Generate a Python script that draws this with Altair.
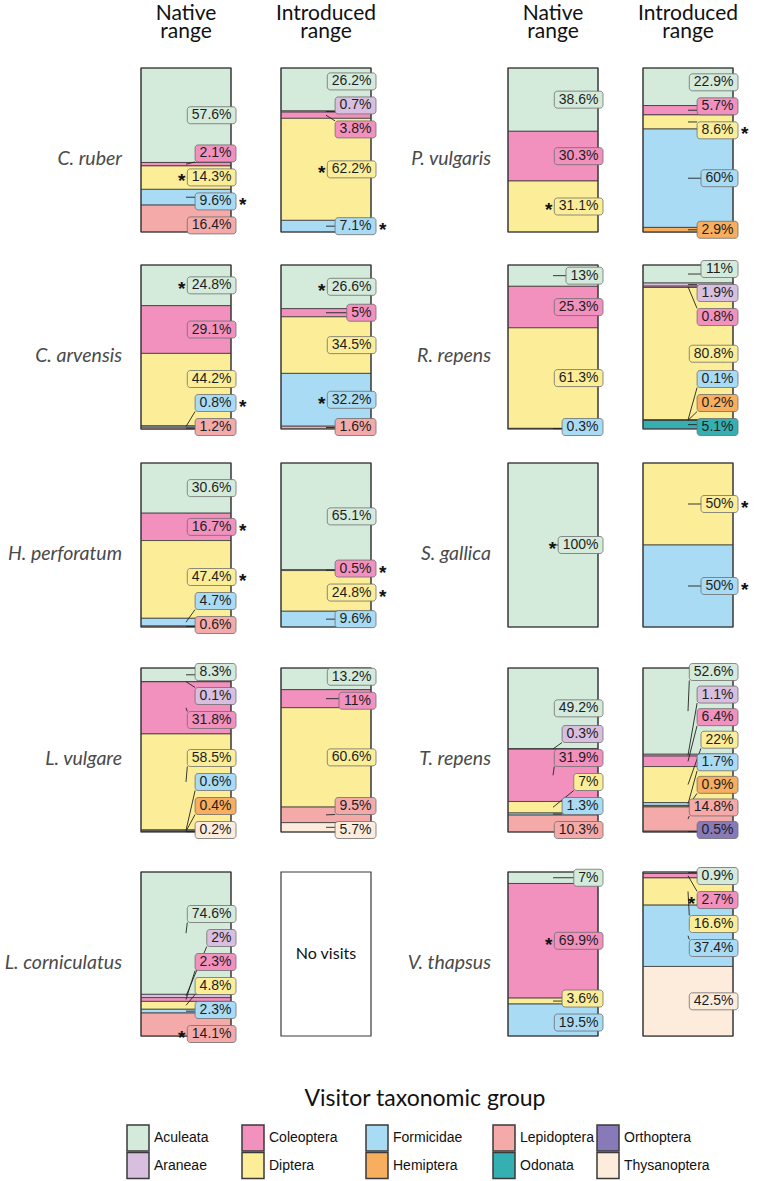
import math
import altair as alt
import pandas as pd

# ---------------------------------------------------------------------------
# Visitor taxonomic groups (stacking order, top to bottom) and their colours
# ---------------------------------------------------------------------------
GROUPS = ["Aculeata", "Araneae", "Coleoptera", "Diptera", "Formicidae",
          "Hemiptera", "Lepidoptera", "Odonata", "Orthoptera", "Thysanoptera"]
GROUP_COLORS = ["#d4ebdb", "#d9bfdf", "#f291be", "#fcee98", "#a9dcf4",
                "#f7ae5e", "#f5aaaa", "#35b0b2", "#8879b9", "#fdecdc"]

RANGES = ["Native\nrange", "Introduced\nrange"]
LEFT_SPECIES = ["C. ruber", "C. arvensis", "H. perforatum", "L. vulgare", "L. corniculatus"]
RIGHT_SPECIES = ["P. vulgaris", "R. repens", "S. gallica", "T. repens", "V. thapsus"]

# ---------------------------------------------------------------------------
# Share of visits (%) per group, top to bottom of each bar
# ---------------------------------------------------------------------------
c_ruber_native = [("Aculeata", 57.6), ("Coleoptera", 2.1), ("Diptera", 14.3),
                  ("Formicidae", 9.6), ("Lepidoptera", 16.4)]
c_ruber_intro = [("Aculeata", 26.2), ("Araneae", 0.7), ("Coleoptera", 3.8),
                 ("Diptera", 62.2), ("Formicidae", 7.1)]

c_arvensis_native = [("Aculeata", 24.8), ("Coleoptera", 29.1), ("Diptera", 44.2),
                     ("Formicidae", 0.8), ("Lepidoptera", 1.2)]
c_arvensis_intro = [("Aculeata", 26.6), ("Coleoptera", 5), ("Diptera", 34.5),
                    ("Formicidae", 32.2), ("Lepidoptera", 1.6)]

h_perforatum_native = [("Aculeata", 30.6), ("Coleoptera", 16.7), ("Diptera", 47.4),
                       ("Formicidae", 4.7), ("Lepidoptera", 0.6)]
h_perforatum_intro = [("Aculeata", 65.1), ("Coleoptera", 0.5), ("Diptera", 24.8),
                      ("Formicidae", 9.6)]

l_vulgare_native = [("Aculeata", 8.3), ("Araneae", 0.1), ("Coleoptera", 31.8),
                    ("Diptera", 58.5), ("Formicidae", 0.6), ("Hemiptera", 0.4),
                    ("Thysanoptera", 0.2)]
l_vulgare_intro = [("Aculeata", 13.2), ("Coleoptera", 11), ("Diptera", 60.6),
                   ("Lepidoptera", 9.5), ("Thysanoptera", 5.7)]

l_corniculatus_native = [("Aculeata", 74.6), ("Araneae", 2), ("Coleoptera", 2.3),
                         ("Diptera", 4.8), ("Formicidae", 2.3), ("Lepidoptera", 14.1)]
l_corniculatus_intro = None  # no visits recorded

p_vulgaris_native = [("Aculeata", 38.6), ("Coleoptera", 30.3), ("Diptera", 31.1)]
p_vulgaris_intro = [("Aculeata", 22.9), ("Coleoptera", 5.7), ("Diptera", 8.6),
                    ("Formicidae", 60), ("Hemiptera", 2.9)]

r_repens_native = [("Aculeata", 13), ("Coleoptera", 25.3), ("Diptera", 61.3),
                   ("Formicidae", 0.3)]
r_repens_intro = [("Aculeata", 11), ("Araneae", 1.9), ("Coleoptera", 0.8),
                  ("Diptera", 80.8), ("Formicidae", 0.1), ("Hemiptera", 0.2),
                  ("Odonata", 5.1)]

s_gallica_native = [("Aculeata", 100)]
s_gallica_intro = [("Diptera", 50), ("Formicidae", 50)]

t_repens_native = [("Aculeata", 49.2), ("Araneae", 0.3), ("Coleoptera", 31.9),
                   ("Diptera", 7), ("Formicidae", 1.3), ("Lepidoptera", 10.3)]
t_repens_intro = [("Aculeata", 52.6), ("Araneae", 1.1), ("Coleoptera", 6.4),
                  ("Diptera", 22), ("Formicidae", 1.7), ("Hemiptera", 0.9),
                  ("Lepidoptera", 14.8), ("Orthoptera", 0.5)]

v_thapsus_native = [("Aculeata", 7), ("Coleoptera", 69.9), ("Diptera", 3.6),
                    ("Formicidae", 19.5)]
v_thapsus_intro = [("Aculeata", 0.9), ("Coleoptera", 2.7), ("Diptera", 16.6),
                   ("Formicidae", 37.4), ("Thysanoptera", 42.5)]

VISITS = {
    "C. ruber": (c_ruber_native, c_ruber_intro),
    "C. arvensis": (c_arvensis_native, c_arvensis_intro),
    "H. perforatum": (h_perforatum_native, h_perforatum_intro),
    "L. vulgare": (l_vulgare_native, l_vulgare_intro),
    "L. corniculatus": (l_corniculatus_native, l_corniculatus_intro),
    "P. vulgaris": (p_vulgaris_native, p_vulgaris_intro),
    "R. repens": (r_repens_native, r_repens_intro),
    "S. gallica": (s_gallica_native, s_gallica_intro),
    "T. repens": (t_repens_native, t_repens_intro),
    "V. thapsus": (v_thapsus_native, v_thapsus_intro),
}

# Significant differences (*) and which side of the label the mark sits on
SIGNIFICANT = {
    ("C. ruber", 0): {"Diptera": "left", "Formicidae": "right"},
    ("C. ruber", 1): {"Diptera": "left", "Formicidae": "right"},
    ("C. arvensis", 0): {"Aculeata": "left", "Formicidae": "right"},
    ("C. arvensis", 1): {"Aculeata": "left", "Formicidae": "left"},
    ("H. perforatum", 0): {"Coleoptera": "right", "Diptera": "right"},
    ("H. perforatum", 1): {"Coleoptera": "right", "Diptera": "right"},
    ("L. corniculatus", 0): {"Lepidoptera": "left"},
    ("P. vulgaris", 0): {"Diptera": "left"},
    ("P. vulgaris", 1): {"Diptera": "right"},
    ("S. gallica", 0): {"Aculeata": "left"},
    ("S. gallica", 1): {"Diptera": "right", "Formicidae": "right"},
    ("V. thapsus", 0): {"Coleoptera": "left"},
    ("V. thapsus", 1): {"Coleoptera": "left"},
}

# ---------------------------------------------------------------------------
# Layout (canvas units)
# ---------------------------------------------------------------------------
W, H = 762, 1181
BAR_W, BAR_H = 90, 164
BAR_X = [(141, 281), (508, 643)]           # native / introduced bar left edges per column
ROW_TOP = [68, 265, 463, 668, 872]
NAME_RIGHT = [122, 491]
LABEL_GAP = 24                             # min distance between label centres
BOX_H, BOX_PAD = 17, 4.5
LABEL_FS = 14
LEGEND_COL_X = [127, 242, 366, 493, 597]
LEGEND_ROW_Y = [1125, 1152.5]
SWATCH_W, SWATCH_H = 22, 26

SANS = "Liberation Sans, Arial, sans-serif"
HEAD = "Lato, Open Sans, sans-serif"

# Arial advance widths (em) for the characters used in the labels
CHAR_W = {d: 0.556 for d in "0123456789"}
CHAR_W.update({".": 0.278, "%": 0.889})


def text_width(s, size):
    return sum(CHAR_W.get(c, 0.556) for c in s) * size


def spread(desired, gap, lo, hi):
    """Keep label centres in stacking order, at least `gap` apart, within [lo, hi]."""
    n = len(desired)
    if n > 1:
        gap = min(gap, (hi - lo) / (n - 1))
    z = [d - i * gap for i, d in enumerate(desired)]
    blocks = []
    for v in z:
        blocks.append([v, 1])
        while len(blocks) > 1 and blocks[-2][0] / blocks[-2][1] > blocks[-1][0] / blocks[-1][1]:
            s, c = blocks.pop()
            blocks[-1][0] += s
            blocks[-1][1] += c
    fitted = []
    for s, c in blocks:
        fitted += [s / c] * c
    zhi = hi - (n - 1) * gap
    fitted = [min(max(f, lo), zhi) for f in fitted]
    return [f + i * gap for i, f in enumerate(fitted)]


def fmt(v):
    return f"{v:g}%"


bars, outlines, empties, segs, boxes, stars_l, stars_r = [], [], [], [], [], [], []
names, heads = [], []

for col, species_list in enumerate([LEFT_SPECIES, RIGHT_SPECIES]):
    for k, rng in enumerate(RANGES):
        heads.append({"x": BAR_X[col][k] + BAR_W / 2, "y": 19.5, "text": rng})
    for row, sp in enumerate(species_list):
        top = ROW_TOP[row]
        names.append({"x": NAME_RIGHT[col], "y": top + BAR_H / 2 + 15, "text": sp})
        for k in range(2):
            x0 = BAR_X[col][k]
            x1 = x0 + BAR_W
            data = VISITS[sp][k]
            if data is None:
                empties.append({"x": x0, "x2": x1, "y": top, "y2": top + BAR_H,
                                "tx": (x0 + x1) / 2, "ty": top + BAR_H / 2 + 5,
                                "text": "No visits"})
                continue
            outlines.append({"x": x0, "x2": x1, "y": top, "y2": top + BAR_H})
            cum, mids = 0.0, []
            for g, v in data:
                y0 = top + cum / 100 * BAR_H
                cum += v
                y1 = top + cum / 100 * BAR_H
                bars.append({"x": x0, "x2": x1, "y": y0, "y2": y1, "group": g})
                mids.append((y0 + y1) / 2)
            centres = spread(mids, LABEL_GAP, top + 4, top + BAR_H - 2)
            sig = SIGNIFICANT.get((sp, k), {})
            px = (x0 + x1) / 2
            for (g, v), m, yc in zip(data, mids, centres):
                txt = fmt(v)
                w = text_width(txt, LABEL_FS) + 2 * BOX_PAD
                bx1 = x1 + 5
                bx0 = bx1 - w
                by0, by1 = yc - BOX_H / 2, yc + BOX_H / 2
                boxes.append({"x": bx0, "x2": bx1, "y": by0, "y2": by1,
                              "tx": (bx0 + bx1) / 2, "ty": yc, "text": txt, "group": g})
                nx = min(max(px, bx0), bx1)
                ny = min(max(m, by0), by1)
                if math.hypot(nx - px, ny - m) > 3:
                    segs.append({"x": px, "y": m, "x2": nx, "y2": ny})
                side = sig.get(g)
                if side == "left":
                    stars_l.append({"x": bx0 - 2, "y": yc + 10, "text": "*"})
                elif side == "right":
                    stars_r.append({"x": bx1 + 3, "y": yc + 10, "text": "*"})

legend_sw, legend_lab = [], []
for c, cxl in enumerate(LEGEND_COL_X):
    for r, ry in enumerate(LEGEND_ROW_Y):
        g = GROUPS[2 * c + r]
        legend_sw.append({"x": cxl, "x2": cxl + SWATCH_W, "y": ry, "y2": ry + SWATCH_H, "group": g})
        legend_lab.append({"x": cxl + SWATCH_W + 5, "y": ry + SWATCH_H / 2, "text": g})

# ---------------------------------------------------------------------------
# Chart
# ---------------------------------------------------------------------------
XS = alt.Scale(domain=[0, W], nice=False, zero=False)
YS = alt.Scale(domain=[0, H], nice=False, zero=False, reverse=True)
COLOR = alt.Color("group:N", scale=alt.Scale(domain=GROUPS, range=GROUP_COLORS), legend=None)


def xq(f):
    return alt.X(f"{f}:Q", scale=XS, axis=None)


def yq(f):
    return alt.Y(f"{f}:Q", scale=YS, axis=None)


def rect_enc(**extra):
    return dict(x=xq("x"), x2=alt.X2("x2"), y=yq("y"), y2=alt.Y2("y2"), **extra)


bar_layer = alt.Chart(pd.DataFrame(bars)).mark_rect(
    stroke="#3a3a3a", strokeWidth=0.8).encode(**rect_enc(color=COLOR))

outline_layer = alt.Chart(pd.DataFrame(outlines)).mark_rect(
    fillOpacity=0, stroke="#3a3a3a", strokeWidth=1.2).encode(**rect_enc())

empty_layer = alt.Chart(pd.DataFrame(empties)).mark_rect(
    fill="white", stroke="#3a3a3a", strokeWidth=1.2).encode(**rect_enc())

empty_text = alt.Chart(pd.DataFrame(empties)).mark_text(
    font=HEAD, fontSize=16, color="#111111", align="center", baseline="alphabetic").encode(
    x=xq("tx"), y=yq("ty"), text="text:N")

seg_layer = alt.Chart(pd.DataFrame(segs)).mark_rule(
    color="#222222", strokeWidth=0.9).encode(
    x=xq("x"), y=yq("y"), x2=alt.X2("x2"), y2=alt.Y2("y2"))

box_layer = alt.Chart(pd.DataFrame(boxes)).mark_rect(
    cornerRadius=3, stroke="#6e6e6e", strokeWidth=0.8).encode(**rect_enc(color=COLOR))

box_text = alt.Chart(pd.DataFrame(boxes)).mark_text(
    font=SANS, fontSize=LABEL_FS, color="#1e1e1e", align="center", baseline="middle").encode(
    x=xq("tx"), y=yq("ty"), text="text:N")

star_left = alt.Chart(pd.DataFrame(stars_l)).mark_text(
    font=SANS, fontSize=19, fontWeight="bold", color="#111111", align="right",
    baseline="alphabetic").encode(x=xq("x"), y=yq("y"), text="text:N")

star_right = alt.Chart(pd.DataFrame(stars_r)).mark_text(
    font=SANS, fontSize=19, fontWeight="bold", color="#111111", align="left",
    baseline="alphabetic").encode(x=xq("x"), y=yq("y"), text="text:N")

name_layer = alt.Chart(pd.DataFrame(names)).mark_text(
    font=HEAD, fontSize=19.5, fontStyle="italic", color="#4a4a4a", align="right",
    baseline="alphabetic").encode(x=xq("x"), y=yq("y"), text="text:N")

head_layer = alt.Chart(pd.DataFrame(heads)).mark_text(
    font=HEAD, fontSize=21, color="#111111", align="center", baseline="alphabetic",
    lineBreak="\n", lineHeight=18.5).encode(
    x=xq("x"), y=yq("y"), text="text:N")

legend_swatch = alt.Chart(pd.DataFrame(legend_sw)).mark_rect(
    stroke="#3a3a3a", strokeWidth=1.5).encode(**rect_enc(color=COLOR))

legend_text = alt.Chart(pd.DataFrame(legend_lab)).mark_text(
    font=SANS, fontSize=14, color="#111111", align="left", baseline="middle").encode(
    x=xq("x"), y=yq("y"), text="text:N")

legend_title = alt.Chart(pd.DataFrame([{"x": 425, "y": 1106, "text": "Visitor taxonomic group"}])).mark_text(
    font=HEAD, fontSize=23, color="#111111", align="center", baseline="alphabetic").encode(
    x=xq("x"), y=yq("y"), text="text:N")

chart = alt.layer(
    bar_layer, outline_layer, empty_layer, empty_text, seg_layer, box_layer, box_text,
    star_left, star_right, name_layer, head_layer, legend_swatch, legend_text, legend_title,
).properties(
    width=W, height=H, padding=0,
    autosize=alt.AutoSizeParams(type="none"),
).configure_view(stroke=None)

chart.save("out.html", embed_options={"renderer": "svg", "actions": False})
